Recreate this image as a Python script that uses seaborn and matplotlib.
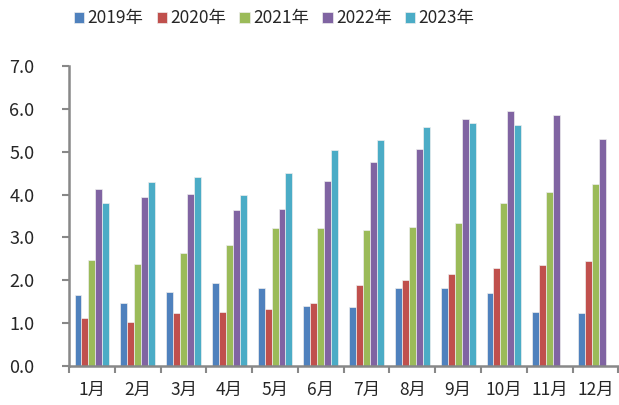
import numpy as np
import pandas as pd
import matplotlib
matplotlib.use("Agg")
import matplotlib.pyplot as plt
import seaborn as sns

months = ["1月", "2月", "3月", "4月", "5月", "6月", "7月", "8月", "9月", "10月", "11月", "12月"]
years = ["2019年", "2020年", "2021年", "2022年", "2023年"]
v2019 = [1.65, 1.47, 1.72, 1.94, 1.82, 1.40, 1.38, 1.81, 1.82, 1.70, 1.26, 1.24]
v2020 = [1.12, 1.03, 1.23, 1.27, 1.34, 1.46, 1.90, 2.00, 2.15, 2.29, 2.35, 2.45]
v2021 = [2.47, 2.37, 2.64, 2.82, 3.21, 3.21, 3.18, 3.24, 3.33, 3.80, 4.07, 4.24]
v2022 = [4.13, 3.95, 4.02, 3.63, 3.67, 4.32, 4.75, 5.06, 5.76, 5.94, 5.85, 5.30]
v2023 = [3.80, 4.30, 4.42, 4.00, 4.50, 5.05, 5.27, 5.57, 5.67, 5.62, np.nan, np.nan]
colors = ["#4F81BD", "#C0504D", "#9BBB59", "#8064A2", "#4BACC6"]

rows = []
for y, vals in zip(years, [v2019, v2020, v2021, v2022, v2023]):
    for m, v in zip(months, vals):
        rows.append({"month": m, "year": y, "value": v})
df = pd.DataFrame(rows).dropna()

sns.set_theme(style="white")
plt.rcParams["font.family"] = ["Noto Sans CJK SC", "DejaVu Sans"]

fig = plt.figure(figsize=(6.19, 4.05), dpi=100)
ax = fig.add_axes([0.1115, 0.0963, 0.8875, 0.7407])

sns.barplot(data=df, x="month", y="value", hue="year", order=months, hue_order=years,
            palette=colors, saturation=1, width=0.76, edgecolor="#EEEEEE", linewidth=0.5,
            errorbar=None, ax=ax, legend=True)

ax.set_xlim(-0.5, 11.5)
ax.set_ylim(0, 7)
ax.set_yticks(np.arange(0, 7.01, 1.0))
ax.set_yticklabels([f"{t:.1f}" for t in np.arange(0, 7.01, 1.0)], fontsize=13)
ax.set_xticks(range(12))
ax.set_xticklabels(months, fontsize=12.5)
ax.set_xticks(np.arange(-0.5, 11.6, 1.0), minor=True)
ax.tick_params(axis="x", which="major", length=0, pad=11)
ax.tick_params(axis="x", which="minor", length=5, width=1.5, color="#888888", bottom=True)
ax.tick_params(axis="y", which="major", length=5, width=1.5, color="#888888", left=True, pad=20)
ax.set_xlabel("")
ax.set_ylabel("")
for s in ["top", "right"]:
    ax.spines[s].set_visible(False)
for s in ["left", "bottom"]:
    ax.spines[s].set_color("#888888")
    ax.spines[s].set_linewidth(1.8)

handles, labels = ax.get_legend_handles_labels()
ax.get_legend().remove()
fig.legend(handles, labels, loc="center", bbox_to_anchor=(0.443, 0.955), ncol=5,
           frameon=False, fontsize=12.5, handlelength=0.6, handleheight=0.6,
           handletextpad=0.2, columnspacing=0.75)

fig.savefig("out.png", dpi=100)
